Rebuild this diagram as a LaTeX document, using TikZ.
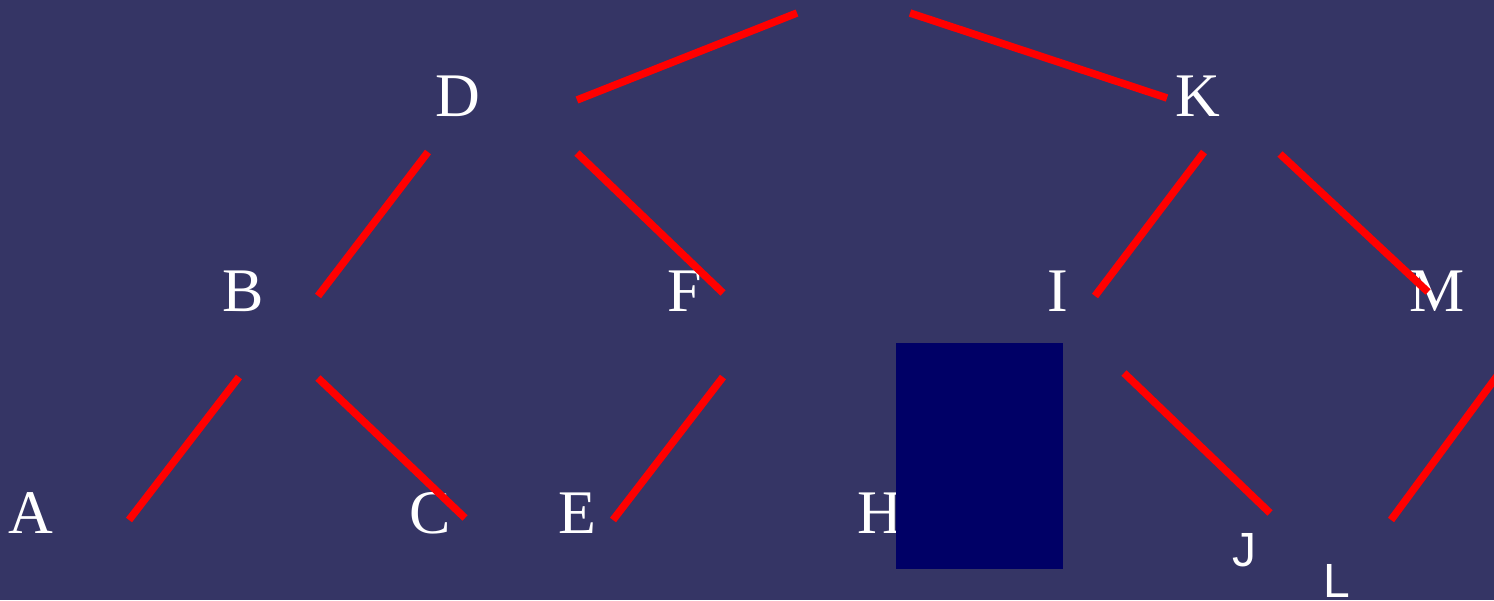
\documentclass[tikz,border=0pt]{standalone}
\usepackage{fontspec}
\newfontfamily\treeserif{Liberation Serif}
\newfontfamily\treesans{Liberation Sans}
\usepackage{tikz}
\usepackage{xcolor}
\definecolor{bgblue}{HTML}{353565}
\definecolor{boxnavy}{HTML}{000066}

\begin{document}
\begin{tikzpicture}[
    x=1pt, y=-1pt,
    letter/.style={text=white, inner sep=0pt, anchor=base, font=\treeserif\fontsize{62}{68}\selectfont},
    sansletter/.style={text=white, inner sep=0pt, anchor=base, font=\treesans\fontsize{48}{52}\selectfont},
    branch/.style={draw=red, line width=7.5pt}
]

% Background
\fill[bgblue] (0,0) rectangle (1494,600);
\useasboundingbox (0,0) rectangle (1494,600);

% Row 1: top letters
\node[letter] (d) at (458,116) {D};
\node[letter] (k) at (1198,116) {K};

% Row 2: middle letters
\node[letter] (b) at (243,311) {B};
\node[letter] (f) at (685,311) {F};
\node[letter] (i) at (1058,311) {I};
\node[letter] (m) at (1437,311) {M};

% Row 3: bottom letters
\node[letter] (a) at (31,533) {A};
\node[letter] (c) at (430,533) {C};
\node[letter] (e) at (577,533) {E};
\node[letter] (h) at (880,533) {H};
\node[sansletter] (j) at (1244,566) {J};
\node[sansletter] (l) at (1337,597) {L};

% Dark box (over H)
\node[fill=boxnavy, inner sep=0pt, minimum width=167pt, minimum height=226pt, anchor=north west] (box) at (896,343) {};

% Branch end points
\coordinate (t1a) at (577,100);  \coordinate (t1b) at (797,13);
\coordinate (t2a) at (910,13);   \coordinate (t2b) at (1167,98);
\coordinate (db1) at (428,152);  \coordinate (db2) at (318,296);
\coordinate (df1) at (577,153);  \coordinate (df2) at (723,293);
\coordinate (ki1) at (1204,152); \coordinate (ki2) at (1095,296);
\coordinate (km1) at (1280,154); \coordinate (km2) at (1428,292);
\coordinate (ba1) at (239,377);  \coordinate (ba2) at (129,520);
\coordinate (bc1) at (318,378);  \coordinate (bc2) at (465,518);
\coordinate (fe1) at (723,377);  \coordinate (fe2) at (613,520);
\coordinate (ij1) at (1124,373); \coordinate (ij2) at (1270,513);
\coordinate (ml1) at (1500,372); \coordinate (ml2) at (1391,520);

% Branches
\draw[branch] (t1a) -- (t1b);
\draw[branch] (t2a) -- (t2b);
\draw[branch] (db1) -- (db2);
\draw[branch] (df1) -- (df2);
\draw[branch] (ki1) -- (ki2);
\draw[branch] (km1) -- (km2);
\draw[branch] (ba1) -- (ba2);
\draw[branch] (bc1) -- (bc2);
\draw[branch] (fe1) -- (fe2);
\draw[branch] (ij1) -- (ij2);
\draw[branch] (ml1) -- (ml2);

\end{tikzpicture}
\end{document}
